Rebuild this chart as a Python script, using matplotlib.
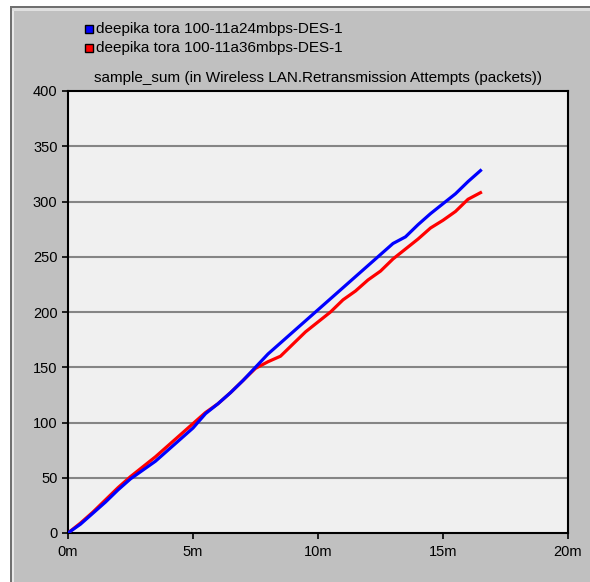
import matplotlib
matplotlib.use('Agg')
import matplotlib.pyplot as plt
from matplotlib.patches import Rectangle
import numpy as np

matplotlib.rc('font', family='Liberation Sans', size=10.5)

## Simulation time (minutes) and retransmission attempt sums
t_min = [0, 0.5, 1, 1.5, 2, 2.5, 3, 3.5, 4, 4.5, 5, 5.5, 6, 6.5, 7, 7.5, 8,
         8.5, 9, 9.5, 10, 10.5, 11, 11.5, 12, 12.5, 13, 13.5, 14, 14.5, 15,
         15.5, 16, 16.5]
retx_24 = [0, 8, 18, 28, 39, 49, 57, 65, 75, 85, 95, 108, 117, 127, 138, 150,
           162, 172, 182, 192, 202, 212, 222, 232, 242, 252, 262, 268, 279,
           289, 298, 307, 318, 328]
retx_36 = [0, 9, 19, 30, 41, 51, 60, 69, 79, 89, 99, 109, 117, 127, 138, 149,
           155, 160, 171, 182, 191, 200, 211, 219, 229, 237, 248, 257, 266,
           276, 283, 291, 302, 308]

names = ['deepika tora 100-11a24mbps-DES-1', 'deepika tora 100-11a36mbps-DES-1']
colors = ['#0000ff', '#ff0000']

W, H = 590, 582
fig = plt.figure(figsize=(W/100, H/100), dpi=100)
fig.patch.set_facecolor('white')

# grey window panel with bevelled border
fig.patches.append(Rectangle((10/W, 0), 1, 1 - 6/H, transform=fig.transFigure,
                             facecolor='#c0c0c0', edgecolor='none', zorder=0))
fig.patches.append(Rectangle((10/W, 0), 2/W, 1 - 6/H, transform=fig.transFigure,
                             facecolor='#707070', edgecolor='none', zorder=1))
fig.patches.append(Rectangle((12/W, 0), 2/W, 1 - 9/H, transform=fig.transFigure,
                             facecolor='#e8e8e8', edgecolor='none', zorder=1))
fig.patches.append(Rectangle((10/W, 1 - 8/H), 1, 2/H, transform=fig.transFigure,
                             facecolor='#707070', edgecolor='none', zorder=1))
fig.patches.append(Rectangle((12/W, 1 - 11/H), 1, 3/H, transform=fig.transFigure,
                             facecolor='#e0e0e0', edgecolor='none', zorder=1))

left, right, top, bottom = 68, 568, 91, 533
ax = fig.add_axes([left/W, 1 - bottom/H, (right-left)/W, (bottom-top)/H])
ax.set_zorder(10)
ax.set_facecolor('#f0f0f0')

for y in range(50, 400, 50):
    ax.axhline(y, color='#858585', lw=1.5, zorder=1)

ax.plot(t_min, retx_36, color=colors[1], lw=2.3, zorder=3)
ax.plot(t_min, retx_24, color=colors[0], lw=2.3, zorder=4)

ax.set_xlim(0, 20)
ax.set_ylim(0, 400)
ax.set_xticks([0, 5, 10, 15, 20])
ax.set_xticklabels(['0m', '5m', '10m', '15m', '20m'])
ax.set_yticks(range(0, 401, 50))
ax.tick_params(direction='out', length=4.5, width=1.2, color='black')
ax.tick_params(axis='y', pad=3)
ax.tick_params(axis='x', pad=4)
for s in ax.spines.values():
    s.set_color('black')
    s.set_linewidth(1.5)

fig.text(318/W, 1 - 78/H,
         'sample_sum (in Wireless LAN.Retransmission Attempts (packets))',
         ha='center', va='center', fontsize=11, zorder=3)

# legend boxes
for i, (n, c) in enumerate(zip(names, colors)):
    yc = 29 + i*19
    fig.patches.append(Rectangle((85/W, 1 - (yc+4)/H), 8/W, 8/H,
                                 transform=fig.transFigure, facecolor=c,
                                 edgecolor='black', lw=1, zorder=2))
    fig.text(96/W, 1 - yc/H, n, va='center', ha='left', fontsize=11, zorder=3)

fig.savefig('out.png', dpi=100, facecolor=fig.get_facecolor())
